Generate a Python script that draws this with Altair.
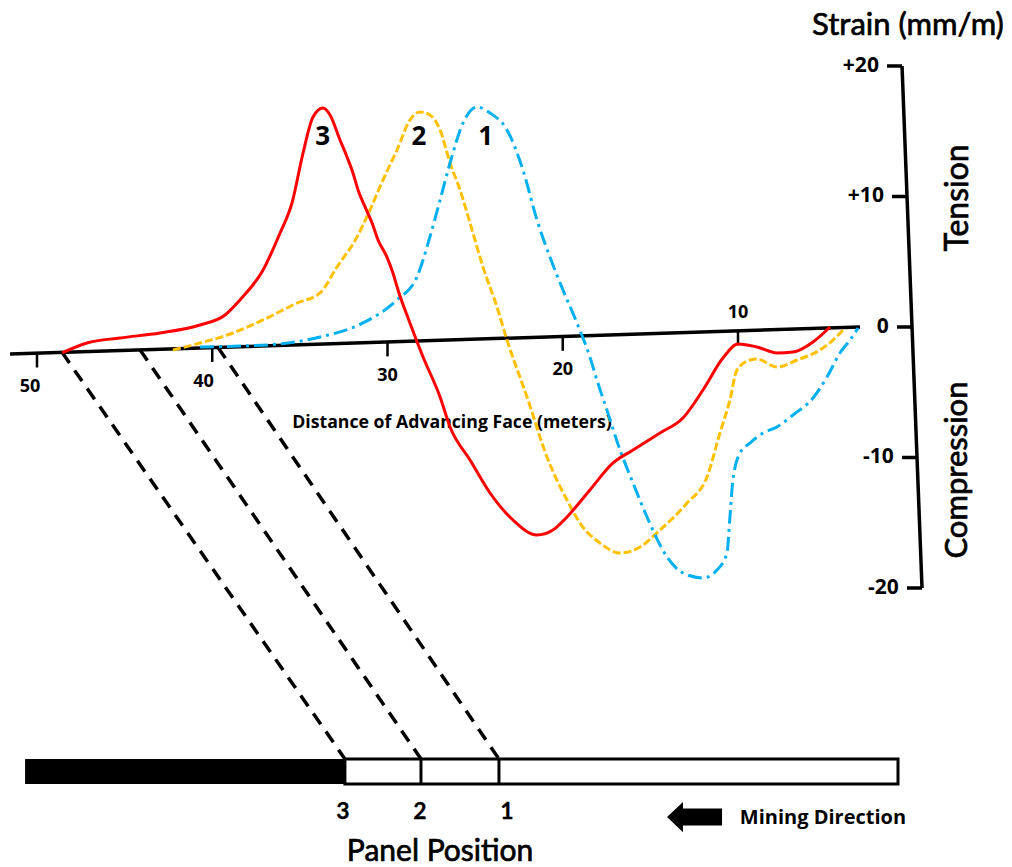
import altair as alt
import pandas as pd

# Strain profiles: distance of the advancing face (m) vs surface strain (mm/m)
dist_3 = [48.57, 47.15, 45.26, 42.98, 40.70, 39.27, 38.42, 37.10, 36.13, 35.45, 34.82,
          34.25, 33.68, 33.28, 32.71, 32.31, 31.97, 31.68, 31.28, 30.88, 30.54, 30.03,
          29.69, 29.40, 28.72, 27.97, 27.00, 26.43, 25.29, 24.15, 22.84, 21.47, 20.56,
          19.76, 18.45, 17.13, 15.99, 14.45, 13.14, 12.00, 10.86, 10.00, 8.92, 7.78,
          6.86, 5.72, 4.75]
strain_3 = [-1.99, -1.23, -0.84, -0.46, 0.15, 0.92, 2.07, 4.37, 7.20, 9.50, 13.33,
            16.09, 16.78, 16.25, 14.33, 13.03, 11.80, 10.50, 9.20, 7.97, 6.67, 5.36,
            4.14, 2.84, 0.31, -2.30, -5.36, -7.66, -10.19, -12.72, -14.79, -15.94, -15.56,
            -14.56, -12.49, -10.42, -9.43, -8.12, -6.97, -4.83, -2.38, -1.30, -1.53, -1.99,
            -1.92, -1.15, 0.00]

dist_2 = [42.24, 40.70, 38.82, 37.10, 35.16, 33.85, 32.88, 31.74, 31.00, 30.26, 29.46,
          28.72, 28.15, 27.58, 27.00, 26.43, 25.86, 25.29, 24.55, 23.75, 23.18, 22.04,
          20.90, 19.76, 18.85, 17.88, 16.73, 15.59, 14.45, 12.91, 11.77, 11.03, 10.46,
          10.06, 9.32, 8.92, 7.78, 6.63, 5.32, 4.58, 3.90]
strain_2 = [-1.76, -1.23, -0.46, 0.54, 1.84, 2.61, 4.60, 6.90, 8.97, 11.26, 13.56,
            15.86, 16.48, 16.25, 15.10, 12.57, 10.50, 7.97, 4.60, 1.53, -1.00, -5.36,
            -9.96, -13.26, -15.33, -16.55, -17.32, -16.86, -15.56, -13.49, -11.49, -8.12, -5.59,
            -3.30, -2.53, -2.45, -3.07, -2.53, -1.76, -1.00, -0.08]

dist_1 = [40.70, 38.42, 36.13, 33.85, 31.40, 29.46, 28.32, 27.58, 27.00, 26.43, 25.69,
          24.89, 24.15, 23.18, 22.27, 21.47, 20.73, 19.99, 19.19, 18.45, 18.05, 17.48,
          16.73, 15.99, 15.19, 14.05, 13.14, 12.00, 11.20, 10.63, 10.46, 10.29, 9.89,
          9.32, 8.57, 7.78, 6.86, 5.72, 4.92, 4.18, 3.61, 3.15]
strain_1 = [-1.53, -1.46, -1.30, -0.77, 0.31, 2.07, 3.83, 6.90, 9.73, 12.57, 15.63,
            16.86, 16.40, 15.10, 12.03, 8.20, 5.36, 2.84, 0.31, -2.30, -4.06, -6.36,
            -9.43, -11.95, -14.56, -17.62, -18.85, -19.23, -18.62, -17.32, -14.56, -11.72, -9.66,
            -8.89, -8.12, -7.66, -6.74, -5.44, -3.83, -1.99, -1.00, -0.08]

# Distance axis (drawn as a sloping baseline)
dist_ticks = [50, 40, 30, 20, 10]
dist_tick_labels = ["50", "40", "30", "20", "10"]
dist_label_at = [50.4, 40.5, 30.0, 20.0, 10.0]

# Strain axis
strain_ticks = [20, 10, 0, -10, -20]
strain_tick_labels = ["+20", "+10", "0", "-10", "-20"]

# Panel positions and where each profile starts on the baseline
panel_ids = ["3", "2", "1"]
panel_face = [32.43, 28.09, 23.64]
panel_label_at = [32.54, 28.15, 23.18]
panel_origin = [48.57, 44.12, 39.67]
peak_label_dist = [33.7, 28.2, 24.4]
panel_start, panel_end = 50.68, 0.87

# Drawing frame in data units
X_DOMAIN = [-5.635, 52.111]
Y_DOMAIN = [-41.379, 25.057]
BASE = [(51.54, -2.07), (3.04, 0.0)]        # sloping distance axis
SAXIS = [(0.64, 20.0), (-0.50, -20.0)]      # slightly leaning strain axis
PANEL_TOP, PANEL_BOT = -33.10, -35.02
SANS = "Lato"
BOLD = "Open Sans"

xs = alt.Scale(domain=X_DOMAIN, reverse=True, nice=False, zero=False)
ys = alt.Scale(domain=Y_DOMAIN, nice=False, zero=False)


def X(f="d"):
    return alt.X(f"{f}:Q", scale=xs, axis=None)


def Y(f="s"):
    return alt.Y(f"{f}:Q", scale=ys, axis=None)


def base_s(d):
    (d0, s0), (d1, s1) = BASE
    return s0 + (d - d0) * (s1 - s0) / (d1 - d0)


def axis_d(s):
    (d0, s0), (d1, s1) = SAXIS
    return d0 + (s - s0) * (d1 - d0) / (s1 - s0)


def profile(d, s, color, dash=None):
    df = pd.DataFrame({"d": d, "s": s, "i": range(len(d))})
    kw = dict(color=color, strokeWidth=3, interpolate="monotone")
    if dash:
        kw["strokeDash"] = dash
    return alt.Chart(df).mark_line(**kw).encode(x=X(), y=Y(), order="i:Q")


def seg_df(rows):
    return pd.DataFrame(rows, columns=["d", "s", "d2", "s2"])


def text_layer(df, size, font=BOLD, weight="bold", align="center", angle=0, halo=0):
    kw = dict(font=font, fontSize=size, fontWeight=weight, align=align,
              baseline="middle", color="black")
    if angle:
        kw["angle"] = angle
    if halo:
        kw["stroke"] = "black"
        kw["strokeWidth"] = halo
    return alt.Chart(df).mark_text(**kw).encode(x=X(), y=Y(), text="t:N")


def label(d, s, t, size, **kw):
    return text_layer(pd.DataFrame({"d": [d], "s": [s], "t": [t]}), size, **kw)


# Curves
red = profile(dist_3, strain_3, "#FF0000")
orange = profile(dist_2, strain_2, "#FFC000", [8, 3])
blue = profile(dist_1, strain_1, "#00B0F0", [14, 5, 3, 5])

# Sloping distance axis with ticks and labels
baseline = alt.Chart(seg_df([(BASE[0][0], BASE[0][1], BASE[1][0], BASE[1][1])])).mark_rule(
    color="black", strokeWidth=3.5).encode(x=X(), y=Y(), x2="d2:Q", y2="s2:Q")
dticks = alt.Chart(seg_df([(v, base_s(v), v, base_s(v) - 1.1) for v in dist_ticks])).mark_rule(
    color="black", strokeWidth=2.5).encode(x=X(), y=Y(), y2="s2:Q")
dlab_df = pd.DataFrame({
    "d": dist_label_at,
    "s": [base_s(v) + (1.35 if v == 10 else -2.6) for v in dist_ticks],
    "t": dist_tick_labels,
})
dlabels = text_layer(dlab_df, 18)
dtitle = label(26.32, -7.36, "Distance of Advancing Face (meters)", 17.7)

# Strain axis
saxis = alt.Chart(seg_df([(SAXIS[0][0], SAXIS[0][1], SAXIS[1][0], SAXIS[1][1])])).mark_rule(
    color="black", strokeWidth=3.5).encode(x=X(), y=Y(), x2="d2:Q", y2="s2:Q")
sticks = alt.Chart(seg_df([(axis_d(v), v, axis_d(v) + 0.86, v) for v in strain_ticks])).mark_rule(
    color="black", strokeWidth=3.5).encode(x=X(), y=Y(), x2="d2:Q")
slab_df = pd.DataFrame({"d": [axis_d(v) + 1.32 for v in strain_ticks],
                        "s": strain_ticks, "t": strain_tick_labels})
slabels = text_layer(slab_df, 21, align="right")
stitle = label(0.30, 23.1, "Strain (mm/m)", 31, font=SANS, weight="normal", halo=0.7)
tension = label(-2.55, 9.89, "Tension", 32, font=SANS, weight="normal", angle=270, halo=0.7)
compression = label(-2.55, -10.96, "Compression", 31, font=SANS, weight="normal", angle=270, halo=0.7)

# Peak labels
peak_df = pd.DataFrame({"d": peak_label_dist, "s": [14.56] * 3, "t": panel_ids})
peaks = text_layer(peak_df, 26)

# Projection lines from each profile to its panel position
proj = alt.Chart(seg_df([(o, base_s(o), f, PANEL_TOP) for o, f in zip(panel_origin, panel_face)])).mark_rule(
    color="black", strokeWidth=3.5, strokeDash=[13, 9]).encode(x=X(), y=Y(), x2="d2:Q", y2="s2:Q")

# Panel strip
mined = alt.Chart(seg_df([(panel_start, PANEL_TOP, panel_face[0], PANEL_BOT)])).mark_rect(
    color="black").encode(x=X(), y=Y(), x2="d2:Q", y2="s2:Q")
unmined = alt.Chart(seg_df([(panel_face[0], PANEL_TOP, panel_end, PANEL_BOT)])).mark_rect(
    fill="white", stroke="black", strokeWidth=3).encode(x=X(), y=Y(), x2="d2:Q", y2="s2:Q")
dividers = alt.Chart(seg_df([(f, PANEL_TOP, f, PANEL_BOT) for f in panel_face[1:]])).mark_rule(
    color="black", strokeWidth=3).encode(x=X(), y=Y(), y2="s2:Q")
plab_df = pd.DataFrame({"d": panel_label_at, "s": [-37.17] * 3, "t": panel_ids})
plabels = text_layer(plab_df, 23, font=SANS, halo=0.3)
ptitle = label(27.0, -40.23, "Panel Position", 30, font=SANS, weight="normal", halo=0.7)

# Mining direction arrow and caption
ARROW = "M -1 0 L -0.42 -0.55 L -0.42 -0.31 L 1 -0.31 L 1 0.31 L -0.42 0.31 L -0.42 0.55 Z"
arrow = alt.Chart(pd.DataFrame({"d": [12.48], "s": [-37.55]})).mark_point(
    shape=ARROW, size=3025, filled=True, color="black", opacity=1, strokeWidth=0
).encode(x=X(), y=Y())
mining = label(5.15, -37.63, "Mining Direction", 20)

chart = alt.layer(
    proj, mined, unmined, dividers,
    baseline, dticks, dlabels, dtitle,
    saxis, sticks, slabels, stitle, tension, compression,
    orange, blue, red, peaks,
    plabels, ptitle, arrow, mining,
).properties(
    width=1012, height=867, padding=0,
    autosize=alt.AutoSizeParams(type="none"),
    background="white",
).configure_view(stroke=None)

chart.save("out.html", embed_options={"renderer": "svg", "actions": False})
